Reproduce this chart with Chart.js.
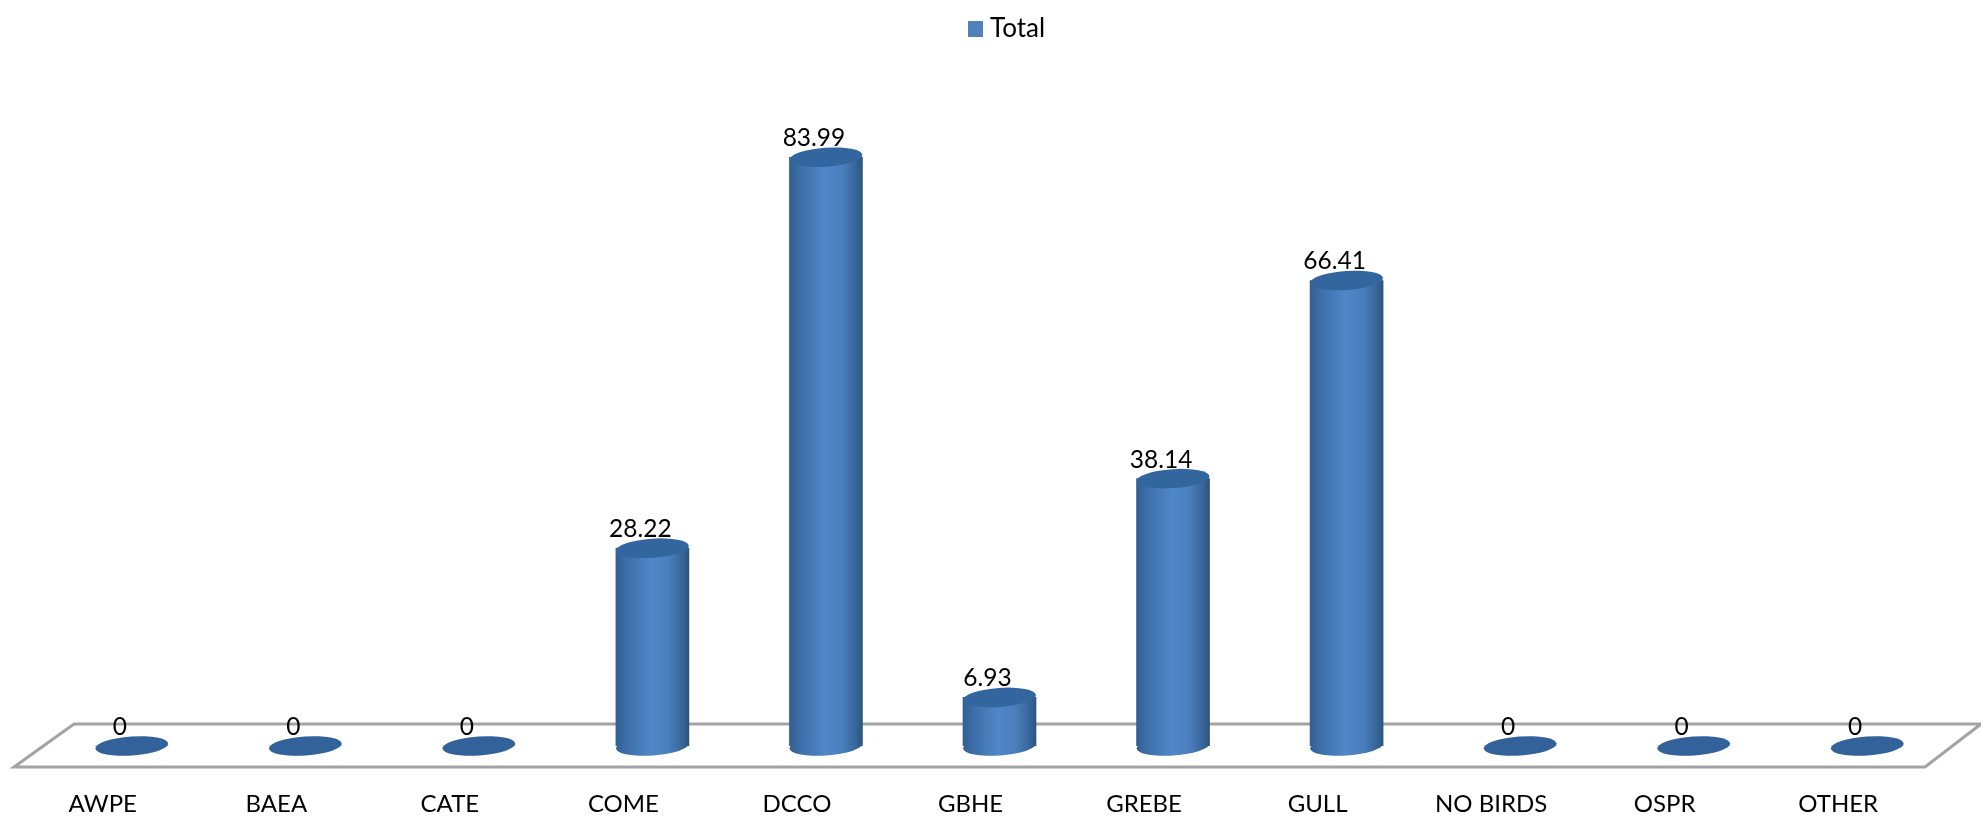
<!DOCTYPE html>
<html>
<head>
<meta charset="utf-8">
<title>Total by species</title>
<script src="https://cdn.jsdelivr.net/npm/chart.js@4"></script>
<style>
  html, body { margin: 0; padding: 0; background: #fff; }
  canvas { display: block; }
</style>
</head>
<body>
<canvas id="chart" width="1981" height="819"></canvas>
<script>
const categories = ['AWPE', 'BAEA', 'CATE', 'COME', 'DCCO', 'GBHE', 'GREBE', 'GULL', 'NO BIRDS', 'OSPR', 'OTHER'];
const totals = [0, 0, 0, 28.22, 83.99, 6.93, 38.14, 66.41, 0, 0, 0];
const seriesName = 'Total';

const FONT = 'Lato, Carlito, sans-serif';
const BAR_W = 73;
const CAP_H = 19;
const TILT = -4 * Math.PI / 180;

// legend swatch: chart.js keeps a canvas pointStyle at its own size
const swatch = document.createElement('canvas');
swatch.width = 15;
swatch.height = 16;
const swatchCtx = swatch.getContext('2d');
swatchCtx.fillStyle = '#4f81bd';
swatchCtx.fillRect(0, 0, 15, 16);

function sideGradient(ctx, cx) {
  const g = ctx.createLinearGradient(cx - BAR_W / 2, 0, cx + BAR_W / 2, 0);
  g.addColorStop(0, '#335f92');
  g.addColorStop(0.14, '#3c6ea8');
  g.addColorStop(0.48, '#5087c8');
  g.addColorStop(0.72, '#4a7fbe');
  g.addColorStop(0.92, '#366496');
  g.addColorStop(1, '#2d5480');
  return g;
}

function ellipse(ctx, x, y, fill) {
  ctx.beginPath();
  ctx.ellipse(x, y, BAR_W / 2, CAP_H / 2, TILT, 0, Math.PI * 2);
  ctx.fillStyle = fill;
  ctx.fill();
}

// floor of the 3d plot, then the bottom of each cylinder
const floorPlugin = {
  id: 'floor',
  afterLayout(chart) {
    chart.legend.left += 10.5;
    chart.legend.right += 10.5;
  },
  beforeDatasetsDraw(chart) {
    const ctx = chart.ctx;
    ctx.save();
    ctx.strokeStyle = '#a3a3a3';
    ctx.lineWidth = 3;
    ctx.beginPath();
    ctx.moveTo(74, 724);
    ctx.lineTo(1981, 724);
    ctx.lineTo(1925, 767);
    ctx.lineTo(14, 767);
    ctx.closePath();
    ctx.stroke();
    chart.getDatasetMeta(0).data.forEach((bar, i) => {
      if (totals[i] > 0) ellipse(ctx, bar.x, bar.base, sideGradient(ctx, bar.x));
    });
    ctx.restore();
  },
  afterDatasetsDraw(chart) {
    const ctx = chart.ctx;
    ctx.save();
    ctx.textAlign = 'center';
    ctx.textBaseline = 'middle';
    ctx.font = '24.5px ' + FONT;
    chart.getDatasetMeta(0).data.forEach((bar, i) => {
      ellipse(ctx, bar.x, bar.y, totals[i] > 0 ? '#33659f' : '#326299');
      ctx.fillStyle = '#000';
      ctx.fillText(String(totals[i]), bar.x - 12, bar.y - 19);
    });
    ctx.restore();
  }
};

new Chart(document.getElementById('chart'), {
  type: 'bar',
  plugins: [floorPlugin],
  data: {
    labels: categories,
    datasets: [{
      label: seriesName,
      data: totals,
      barThickness: BAR_W,
      borderWidth: 0,
      backgroundColor: c => {
        const x = c.chart.scales.x;
        if (!x || c.dataIndex === undefined) return '#4f81bd';
        return sideGradient(c.chart.ctx, x.getPixelForValue(c.dataIndex));
      }
    }]
  },
  options: {
    responsive: false,
    animation: false,
    layout: { padding: { left: 45, right: 27, top: 0, bottom: 0 } },
    plugins: {
      tooltip: { enabled: false },
      legend: {
        position: 'top',
        labels: {
          usePointStyle: true,
          pointStyleWidth: 2,
          boxHeight: 15,
          padding: 16,
          color: '#000',
          font: { family: FONT, size: 26 },
          generateLabels: () => [{ text: seriesName, pointStyle: swatch, lineWidth: 0, datasetIndex: 0 }]
        }
      }
    },
    scales: {
      x: {
        grid: { display: false, drawTicks: false },
        border: { display: false },
        afterFit: s => { s.height = 73; },
        ticks: {
          color: '#000',
          padding: 44,
          labelOffset: -29,
          maxRotation: 0,
          autoSkip: false,
          font: { family: FONT, size: 24 }
        }
      },
      y: {
        display: false,
        min: 0,
        max: 99
      }
    }
  }
});
</script>
</body>
</html>
